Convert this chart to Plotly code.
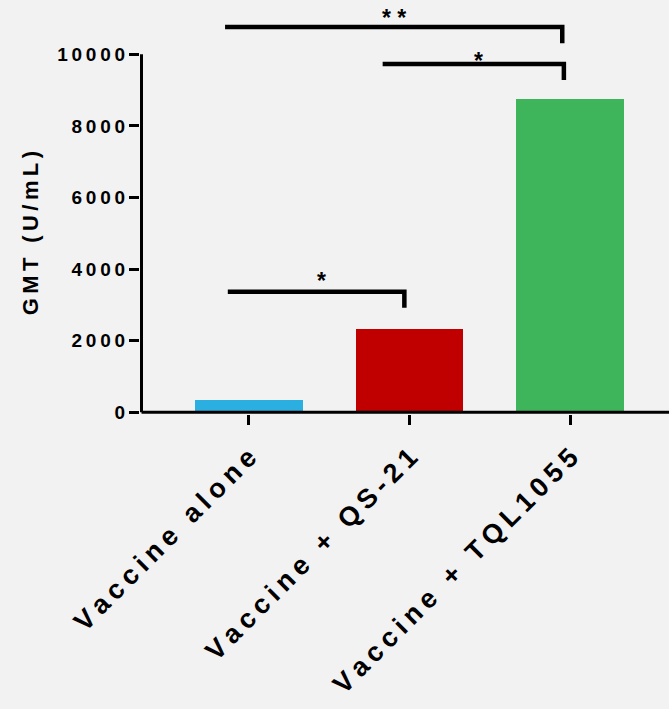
import plotly.graph_objects as go

# Group labels and geometric mean titres
groups = ["Vaccine alone", "Vaccine + QS-21", "Vaccine + TQL1055"]
gmt = [344, 2330, 8760]
bar_colors = ["#2BAEE0", "#C00000", "#3EB55A"]

y_ticks = [0, 2000, 4000, 6000, 8000, 10000]
y_title = "GMT (U/mL)"

# Significance brackets: (left x, right x, top y, bottom y, label, label x, label y)
brackets = [
    (-0.13, 0.968, 3369, 2922, "*", 0.45, 3680),
    (0.833, 1.96, 9729, 9282, "*", 1.428, 9800),
    (-0.147, 1.95, 10763, 10307, "* *", 0.904, 11000),
]

THIN = "\u2009"


def spaced(text, sep):
    return sep.join(text)


x_pos = list(range(len(groups)))

fig = go.Figure()
fig.add_trace(
    go.Bar(
        x=x_pos,
        y=gmt,
        width=0.67,
        marker=dict(color=bar_colors, line=dict(width=0)),
        showlegend=False,
        hoverinfo="skip",
    )
)

font_family = "Liberation Sans, Arial, sans-serif"

x_left = -0.676
x_right = 2.6138
y_axis_x = -0.6667

fig.update_layout(
    width=669,
    height=709,
    margin=dict(l=140, r=0, t=10, b=295, autoexpand=False),
    paper_bgcolor="#F2F2F2",
    plot_bgcolor="#F2F2F2",
    font=dict(family=font_family, color="black"),
    bargap=0,
    xaxis=dict(
        range=[x_left, x_right],
        tickvals=x_pos,
        ticktext=[spaced(g, THIN) for g in groups],
        tickangle=-45,
        ticks="outside",
        ticklen=10,
        tickwidth=3,
        tickcolor="black",
        ticklabelstandoff=6,
        tickfont=dict(size=27, weight="bold", family=font_family, color="black"),
        showgrid=False,
        zeroline=False,
        showline=False,
        automargin=False,
    ),
    yaxis=dict(
        range=[-47.5, 11237],
        tickvals=y_ticks,
        ticktext=[spaced(str(v), THIN) for v in y_ticks],
        ticks="outside",
        ticklen=10,
        tickwidth=3,
        tickcolor="black",
        tickfont=dict(size=19, weight="bold", family=font_family, color="black"),
        showgrid=False,
        zeroline=False,
        showline=False,
        automargin=False,
    ),
)

# Y axis title, centred on the 0-10000 span of the axis line
fig.add_annotation(
    x=-0.208, y=5000, xref="paper", yref="y",
    text=spaced(y_title, THIN), textangle=-90, showarrow=False,
    xanchor="center", yanchor="middle",
    font=dict(size=22, weight="bold", family=font_family, color="black"),
)

# Axis lines: y axis stops at the top tick, x axis runs to the right edge
fig.add_shape(type="line", xref="x", yref="y", x0=y_axis_x, x1=y_axis_x,
              y0=0, y1=10000, line=dict(color="black", width=3))
fig.add_shape(type="line", xref="x", yref="y", x0=y_axis_x, x1=x_right,
              y0=0, y1=0, line=dict(color="black", width=3))

for x0, x1, top, bottom, label, lx, ly in brackets:
    fig.add_shape(
        type="path",
        xref="x",
        yref="y",
        path=f"M {x0},{top} L {x1},{top} L {x1},{bottom}",
        line=dict(color="black", width=4.5),
    )
    fig.add_annotation(
        x=lx, y=ly, xref="x", yref="y", text=label, showarrow=False,
        font=dict(size=23, weight="bold", family=font_family, color="black"),
        yanchor="middle", xanchor="center",
    )

fig.write_html("out.html")
